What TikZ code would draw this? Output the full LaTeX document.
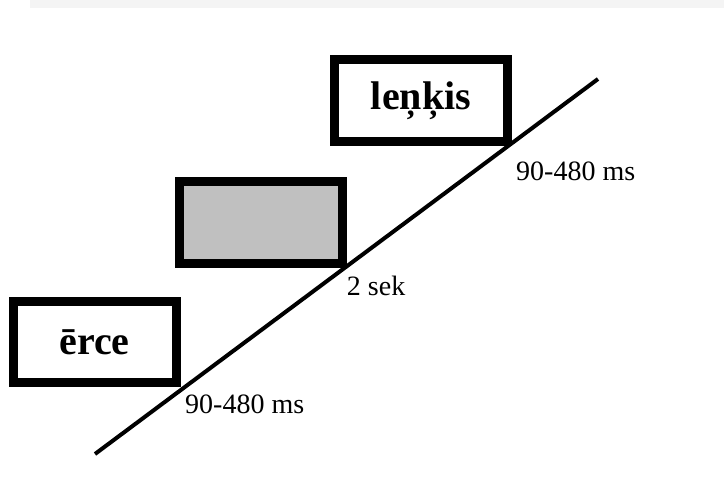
\documentclass[tikz,border=0pt]{standalone}
\usepackage{fontspec}
\setmainfont{Liberation Serif}
\usepackage{tikz}
\usetikzlibrary{calc, positioning}
\tikzstyle{stim}=[draw, shape=rectangle, line width=9pt, inner sep=0pt, outer sep=0pt, font=\fontsize{40}{42}\selectfont\bfseries]
\tikzstyle{dur}=[inner sep=0pt, anchor=west, font=\fontsize{28}{30}\selectfont]
\definecolor{blank}{HTML}{C0C0C0}
\definecolor{band}{HTML}{F4F4F4}

\begin{document}
\begin{tikzpicture}[x=1pt, y=-1pt]
\useasboundingbox (0,0) rectangle (724,490);
\fill[band] (30,0) rectangle (724,8);
% the stimulus boxes
\node[stim, minimum width=163pt, minimum height=81pt] (erce) at (94.5, 342) {ērce};
\node[stim, fill=blank, minimum width=162.5pt, minimum height=82pt] (blank) at (261, 222.5) {};
\node[stim, minimum width=173pt, minimum height=82pt] (lenkis) at (421, 100.5) {leņķis};
% the time axis
\coordinate (t0) at (95, 454);
\coordinate (t1) at (598, 79);
\draw[line width=4pt] (t0) -- (t1);
% the durations
\node[dur] (d1) at ($(erce.south east)+(9,21.5)$) {90-480 ms};
\node[dur] (d2) at ($(blank.south east)+(4.5,22.5)$) {2 sek};
\node[dur] (d3) at ($(lenkis.south east)+(8.5,30)$) {90-480 ms};
\end{tikzpicture}
\end{document}
